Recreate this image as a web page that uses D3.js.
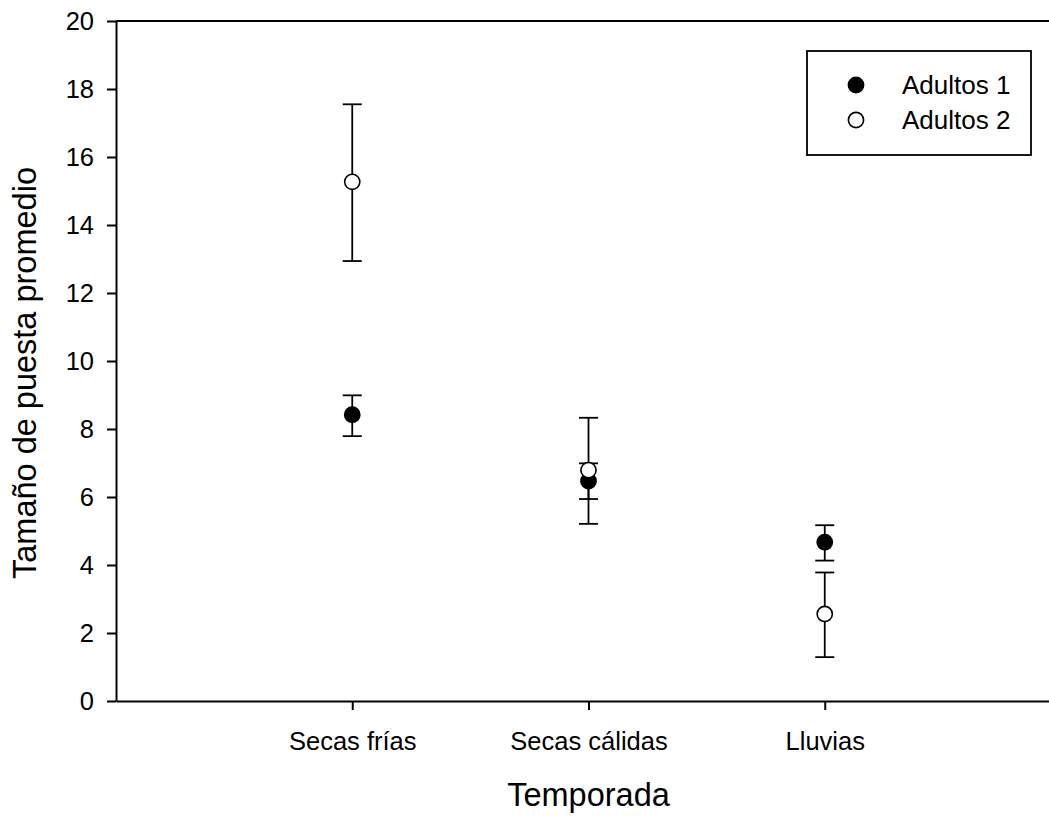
<!DOCTYPE html>
<html>
<head>
  <meta charset="utf-8">
  <script src="https://d3js.org/d3.v7.min.js"></script>
  <style>
    body { margin: 0; background: #fff; overflow: hidden; }
    text { font-family: "Liberation Sans", Arial, sans-serif; fill: #000; }
  </style>
</head>
<body>

<svg width="1049" height="817"></svg>

<script>
  // data
  const categories = ["Secas frías", "Secas cálidas", "Lluvias"];
  const yTicks = [0, 2, 4, 6, 8, 10, 12, 14, 16, 18, 20];

  const adultos1Mean  = [8.42, 6.47, 4.67];
  const adultos1Upper = [8.99, 6.99, 5.17];
  const adultos1Lower = [7.79, 5.94, 4.13];

  const adultos2Mean  = [15.27, 6.79, 2.56];
  const adultos2Upper = [17.55, 8.33, 3.78];
  const adultos2Lower = [12.94, 5.21, 1.29];

  const seriesNames = ["Adultos 1", "Adultos 2"];
  const seriesFill = ["#000", "#fff"];

  const svg = d3.select("svg");

  const plotLeft = 116, plotRight = 1061, plotTop = 21, plotBottom = 701;

  const xScale = d3.scaleLinear()
    .domain([0, 4])
    .range([plotLeft, plotRight]);

  const yScale = d3.scaleLinear()
    .domain([0, 20])
    .range([plotBottom, plotTop]);

  const series = [
    { name: seriesNames[0], fill: seriesFill[0], mean: adultos1Mean, upper: adultos1Upper, lower: adultos1Lower },
    { name: seriesNames[1], fill: seriesFill[1], mean: adultos2Mean, upper: adultos2Upper, lower: adultos2Lower }
  ];

  // top frame line
  svg.append("line")
    .attr("x1", plotLeft).attr("x2", 1049)
    .attr("y1", plotTop).attr("y2", plotTop)
    .attr("stroke", "#000")
    .attr("stroke-width", 2);

  // y axis
  const yAxis = svg.append("g")
    .attr("transform", `translate(${plotLeft},0)`)
    .call(d3.axisLeft(yScale).tickValues(yTicks).tickSize(9).tickPadding(13).tickSizeOuter(0));
  yAxis.selectAll("text").style("font-size", "25.5px");

  // x axis
  const xAxis = svg.append("g")
    .attr("transform", `translate(0,${plotBottom})`)
    .call(d3.axisBottom(xScale)
      .tickValues([1, 2, 3])
      .tickFormat((d, i) => categories[i])
      .tickSize(9).tickPadding(22).tickSizeOuter(0));
  xAxis.selectAll("text").style("font-size", "25.5px");

  svg.selectAll(".domain, .tick line")
    .attr("stroke", "#000")
    .attr("stroke-width", 2);

  // axis titles
  svg.append("text")
    .attr("x", xScale(2))
    .attr("y", 806)
    .attr("text-anchor", "middle")
    .style("font-size", "32.5px")
    .text("Temporada");

  svg.append("text")
    .attr("transform", `translate(36,${373}) rotate(-90)`)
    .attr("text-anchor", "middle")
    .style("font-size", "32.5px")
    .text("Tamaño de puesta promedio");

  // error bars + points
  const capHalf = 9.5;
  series.forEach(s => {
    const g = svg.append("g");
    categories.forEach((c, i) => {
      const cx = xScale(i + 1);
      g.append("line")
        .attr("x1", cx).attr("x2", cx)
        .attr("y1", yScale(s.upper[i])).attr("y2", yScale(s.lower[i]))
        .attr("stroke", "#000").attr("stroke-width", 1.8);
      [s.upper[i], s.lower[i]].forEach(v => {
        g.append("line")
          .attr("x1", cx - capHalf).attr("x2", cx + capHalf)
          .attr("y1", yScale(v)).attr("y2", yScale(v))
          .attr("stroke", "#000").attr("stroke-width", 1.8);
      });
    });
    g.selectAll("circle")
      .data(s.mean)
      .enter().append("circle")
      .attr("cx", (d, i) => xScale(i + 1))
      .attr("cy", d => yScale(d))
      .attr("r", 7.6)
      .attr("fill", s.fill)
      .attr("stroke", "#000")
      .attr("stroke-width", 1.6);
  });

  // legend
  svg.append("rect")
    .attr("x", 807)
    .attr("y", 51)
    .attr("width", 224)
    .attr("height", 104)
    .attr("fill", "#fff")
    .attr("stroke", "#000")
    .attr("stroke-width", 1.8);

  const legend = svg.selectAll(".legend")
    .data(series)
    .enter().append("g")
    .attr("class", "legend")
    .attr("transform", (d, i) => `translate(856,${85 + i * 35})`);

  legend.append("circle")
    .attr("r", 7.6)
    .attr("fill", d => d.fill)
    .attr("stroke", "#000")
    .attr("stroke-width", 1.6);

  legend.append("text")
    .attr("x", 46)
    .attr("dy", "0.36em")
    .style("font-size", "26px")
    .text(d => d.name);
</script>

</body>
</html>
